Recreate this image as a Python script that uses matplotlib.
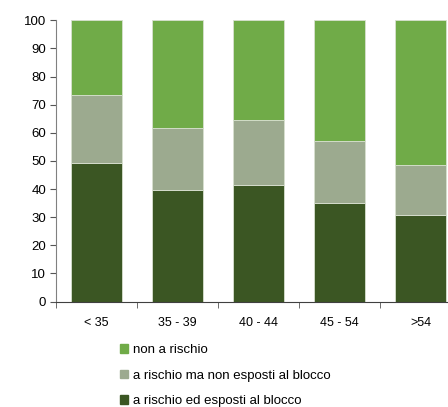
import numpy as np
import matplotlib.pyplot as plt
from matplotlib.patches import Patch
from matplotlib.ticker import FixedLocator

plt.rcParams['font.family'] = ['Liberation Sans', 'DejaVu Sans']

categories = ['< 35', '35 - 39', '40 - 44', '45 - 54', '>54']
esposti = [49.4, 39.5, 41.4, 35.1, 30.8]
non_esposti = [23.9, 22.3, 23.3, 21.9, 17.8]
non_rischio = [100 - a - b for a, b in zip(esposti, non_esposti)]

c_dark = '#3b5623'
c_gray = '#9caa8f'
c_green = '#70ab48'

fig = plt.figure(figsize=(4.48, 4.07), dpi=100)
ax = fig.add_axes([0.125, 0.259, 0.904, 0.691])

x = np.arange(len(categories))
w = 0.64
ax.bar(x, esposti, w, color=c_dark, edgecolor='#d8e0d0', linewidth=0.6)
ax.bar(x, non_esposti, w, bottom=esposti, color=c_gray, edgecolor='#d8e0d0', linewidth=0.6)
bot = np.array(esposti) + np.array(non_esposti)
ax.bar(x, non_rischio, w, bottom=bot, color=c_green, edgecolor='#d8e0d0', linewidth=0.6)

ax.set_xlim(-0.5, 4.5)
ax.set_ylim(0, 100)
ax.set_yticks(range(0, 101, 10))
ax.set_xticks(x)
ax.set_xticklabels(categories)
ax.xaxis.set_minor_locator(FixedLocator(np.arange(-0.5, 5, 1)))
ax.tick_params(axis='x', which='major', length=0, pad=11, labelsize=9)
ax.tick_params(axis='x', which='minor', length=4, color='#555555', direction='out')
ax.tick_params(axis='y', length=4, color='#555555', labelsize=9.5, pad=3)
for s in ['top', 'right']:
    ax.spines[s].set_visible(False)
ax.spines['left'].set_color('#808080')
ax.spines['bottom'].set_color('#404040')

handles = [Patch(color=c_green), Patch(color=c_gray), Patch(color=c_dark)]
labels = ['non a rischio', 'a rischio ma non esposti al blocco', 'a rischio ed esposti al blocco']
fig.legend(handles, labels, loc='upper left', bbox_to_anchor=(0.268, 0.154),
           frameon=False, fontsize=9.5, handlelength=0.62, handleheight=0.62,
           handletextpad=0.35, labelspacing=1.02, borderpad=0, borderaxespad=0)

fig.savefig('out.png', dpi=100)
